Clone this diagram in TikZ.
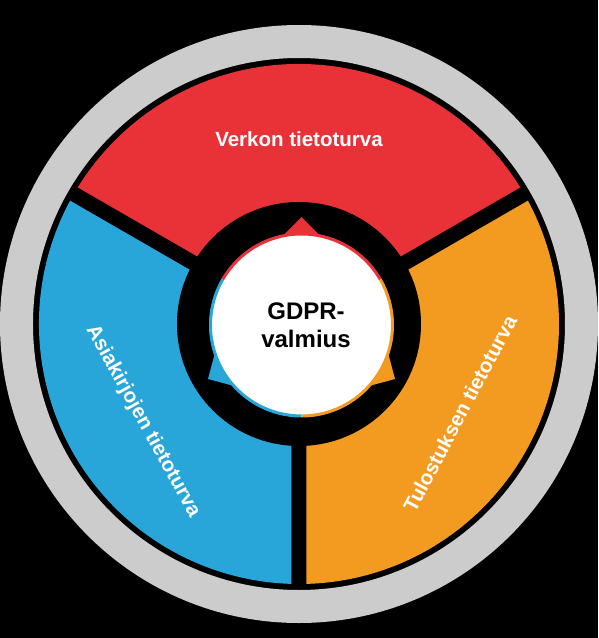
\documentclass[tikz,border=0pt]{standalone}
\usepackage{fontspec}
\setmainfont{Liberation Sans}
\definecolor{gdprred}{RGB}{233,50,56}
\definecolor{gdprblue}{RGB}{41,166,217}
\definecolor{gdprorange}{RGB}{243,154,33}
\definecolor{gdprgray}{RGB}{204,204,204}
\begin{document}
\begin{tikzpicture}[x=1pt,y=1pt,
  seclabel/.style={text=white,inner sep=0pt,font=\bfseries\fontsize{20.5}{24}\selectfont},
  centerlabel/.style={text=black,align=center,inner sep=0pt,font=\bfseries\fontsize{24}{28}\selectfont},
  gapline/.style={black,line width=15pt},
  rimarc/.style={line width=3pt}]
\fill[black] (-299,-314) rectangle (299,324);
\useasboundingbox (-299,-314) rectangle (299,324);
\coordinate (c) at (0,0);
\coordinate (ic) at (2.5,-1);
% gray outer ring
\fill[gdprgray,even odd rule] (c) circle[radius=299pt] (c) circle[radius=266pt];
% coloured sectors
\fill[gdprred] (c) -- (30:260pt) arc[start angle=30,end angle=150,radius=260pt] -- cycle;
\fill[gdprblue] (c) -- (150:260pt) arc[start angle=150,end angle=270,radius=260pt] -- cycle;
\fill[gdprorange] (c) -- (270:260pt) arc[start angle=270,end angle=390,radius=260pt] -- cycle;
\draw[gapline] (c) -- (30:263pt) (c) -- (150:263pt) (c) -- (270:263pt);
\fill[black] (c) circle[radius=122pt];
% arrow tips round the centre
\foreach \a/\col in {90/gdprred,210/gdprblue,330/gdprorange}{
  \begin{scope}[shift={(ic)},rotate=\a-90]
    \fill[\col] (0,108) -- (-20,88) -- (20,88) -- cycle;
  \end{scope}
}
% centre disc
\fill[white] (ic) circle[radius=92pt];
\draw[rimarc,gdprred] ([shift={(ic)}]30:91pt) arc[start angle=30,end angle=150,radius=91pt];
\draw[rimarc,gdprblue] ([shift={(ic)}]150:91pt) arc[start angle=150,end angle=270,radius=91pt];
\draw[rimarc,gdprorange] ([shift={(ic)}]270:91pt) arc[start angle=270,end angle=390,radius=91pt];
% labels
\node[centerlabel] (gdpr) at (7,-1) {GDPR-\\valmius};
\node[seclabel] (verkko) at (90:185pt) {Verkon tietoturva};
\node[seclabel,rotate=-61] (asiakirjat) at (212:184pt) {Asiakirjojen tietoturva};
\node[seclabel,rotate=62] (tulostus) at (331:184pt) {Tulostuksen tietoturva};
\end{tikzpicture}
\end{document}
